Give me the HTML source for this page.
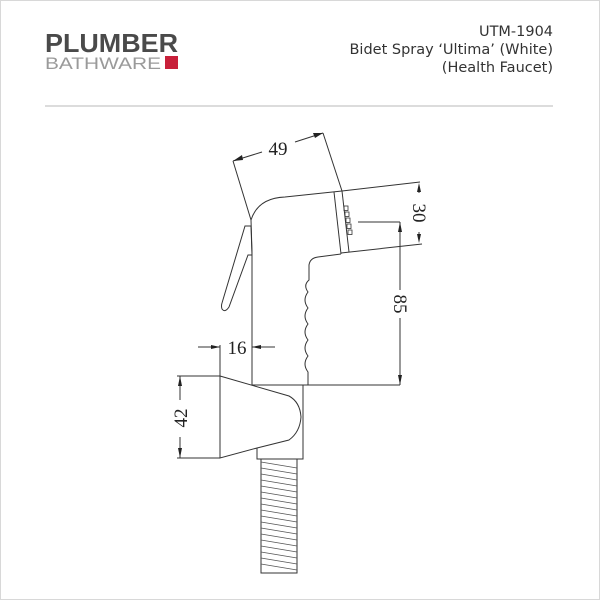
<!DOCTYPE html>
<html><head><meta charset="utf-8"><style>
html,body{margin:0;padding:0;background:#fff}
.w{position:relative;width:600px;height:600px;overflow:hidden;font-family:"DejaVu Sans","Liberation Sans",sans-serif}
</style></head><body><div class="w">
<svg width="600" height="600" viewBox="0 0 600 600" xmlns="http://www.w3.org/2000/svg">
<rect x="0.5" y="0.5" width="599" height="599" fill="none" stroke="#d8d8d8"/>
<text x="45" y="52" font-family="Liberation Sans, sans-serif" font-weight="bold" font-size="26" fill="#4a4a4a" textLength="133" lengthAdjust="spacingAndGlyphs">PLUMBER</text>
<text x="45" y="69" font-family="Liberation Sans, sans-serif" font-size="17" fill="#9a9a9a" textLength="116" lengthAdjust="spacingAndGlyphs">BATHWARE</text>
<rect x="165" y="56" width="13" height="13" fill="#c8203a"/>
<g font-family="DejaVu Sans, sans-serif" font-size="14.5" fill="#333" text-anchor="end">
<text x="553" y="36" textLength="74" lengthAdjust="spacingAndGlyphs">UTM-1904</text>
<text x="553" y="54">Bidet Spray ‘Ultima’ (White)</text>
<text x="553" y="72">(Health Faucet)</text>
</g>
<line x1="45" y1="106" x2="553" y2="106" stroke="#dcdcdc" stroke-width="2"/>
<g fill="none" stroke="#333" stroke-width="1">
<path d="M251,220 Q258,198 285,197 L342,191 L420,182"/>
<path d="M341,253 L422,244"/>
<path d="M334,192 L341,254"/>
<path d="M342,191 L349,252"/>
<g stroke-width="0.8">
<rect x="344" y="206" width="4" height="4.5"/><rect x="345" y="212" width="4" height="4.5"/><rect x="346" y="218" width="4" height="4.5"/><rect x="347" y="224" width="4" height="4.5"/><rect x="348" y="230" width="4" height="4.5"/>
</g>
<path d="M341,254 L318,257 Q310,258 309,265 L309,280 Q303,285 308,292 Q302,300 308,308 Q302,316 308,324 Q302,332 308,340 Q302,348 308,356 Q302,364 308,372 L308,385"/>
<path d="M251,220 L252,252"/>
<line x1="252" y1="252" x2="252" y2="385"/>
<line x1="252" y1="385" x2="400" y2="385"/>
<path d="M245,226 L251,226 L252,255 L248,255 L229,307 Q225,313 222,309 Q221,306 222,303 Z"/>
<line x1="233" y1="161" x2="251" y2="220"/>
<line x1="323" y1="133" x2="342" y2="191"/>
<line x1="233" y1="161" x2="262" y2="152"/>
<line x1="295" y1="142" x2="323" y2="133"/>
<line x1="419" y1="186" x2="419" y2="193"/>
<line x1="419" y1="232" x2="419" y2="240"/>
<line x1="358" y1="222" x2="400" y2="222"/>
<line x1="400" y1="222" x2="400" y2="290"/>
<line x1="400" y1="318" x2="400" y2="385"/>
<line x1="198" y1="347" x2="220" y2="347"/>
<line x1="252" y1="347" x2="275" y2="347"/>
<line x1="220" y1="345" x2="220" y2="376"/>
<path d="M220,376 L220,458 L257,448 L289,440 Q300,432 301,417 Q300,402 289,396 L220,376"/>
<path d="M257,448 L257,459 L303,459 L303,385"/>
<line x1="177" y1="376" x2="220" y2="376"/>
<line x1="177" y1="458" x2="220" y2="458"/>
<line x1="180" y1="376" x2="180" y2="400"/>
<line x1="180" y1="437" x2="180" y2="458"/>
<rect x="261" y="459" width="36" height="114"/>
</g>
<g stroke="#555" stroke-width="0.8">
<line x1="261" y1="462" x2="297" y2="468"/><line x1="261" y1="468" x2="297" y2="474"/><line x1="261" y1="474" x2="297" y2="480"/><line x1="261" y1="480" x2="297" y2="486"/><line x1="261" y1="486" x2="297" y2="492"/><line x1="261" y1="492" x2="297" y2="498"/><line x1="261" y1="498" x2="297" y2="504"/><line x1="261" y1="504" x2="297" y2="510"/><line x1="261" y1="510" x2="297" y2="516"/><line x1="261" y1="516" x2="297" y2="522"/><line x1="261" y1="522" x2="297" y2="528"/><line x1="261" y1="528" x2="297" y2="534"/><line x1="261" y1="534" x2="297" y2="540"/><line x1="261" y1="540" x2="297" y2="546"/><line x1="261" y1="546" x2="297" y2="552"/><line x1="261" y1="552" x2="297" y2="558"/><line x1="261" y1="558" x2="297" y2="564"/><line x1="261" y1="564" x2="297" y2="570"/>
</g>
<g fill="#222">
<path d="M233,161 l9,-6 l1,5 z"/>
<path d="M323,133 l-10,0 l2,5 z"/>
<path d="M419,183 l-2,9 l4,0 z"/>
<path d="M419,243 l-2,-9 l4,0 z"/>
<path d="M400,222 l-2,10 l4,0 z"/>
<path d="M400,385 l-2,-10 l4,0 z"/>
<path d="M220,347 l-9,-2 l0,4 z"/>
<path d="M252,347 l9,-2 l0,4 z"/>
<path d="M180,376 l-2,10 l4,0 z"/>
<path d="M180,458 l-2,-10 l4,0 z"/>
</g>
<g font-family="Liberation Serif, serif" font-size="19" fill="#222" text-anchor="middle">
<text x="278" y="155">49</text>
<text x="237" y="354">16</text>
<text x="0" y="0" transform="translate(413,213) rotate(90)">30</text>
<text x="0" y="0" transform="translate(394,304) rotate(90)">85</text>
<text x="0" y="0" transform="translate(187,418) rotate(-90)">42</text>
</g>
</svg>
</div></body></html>
